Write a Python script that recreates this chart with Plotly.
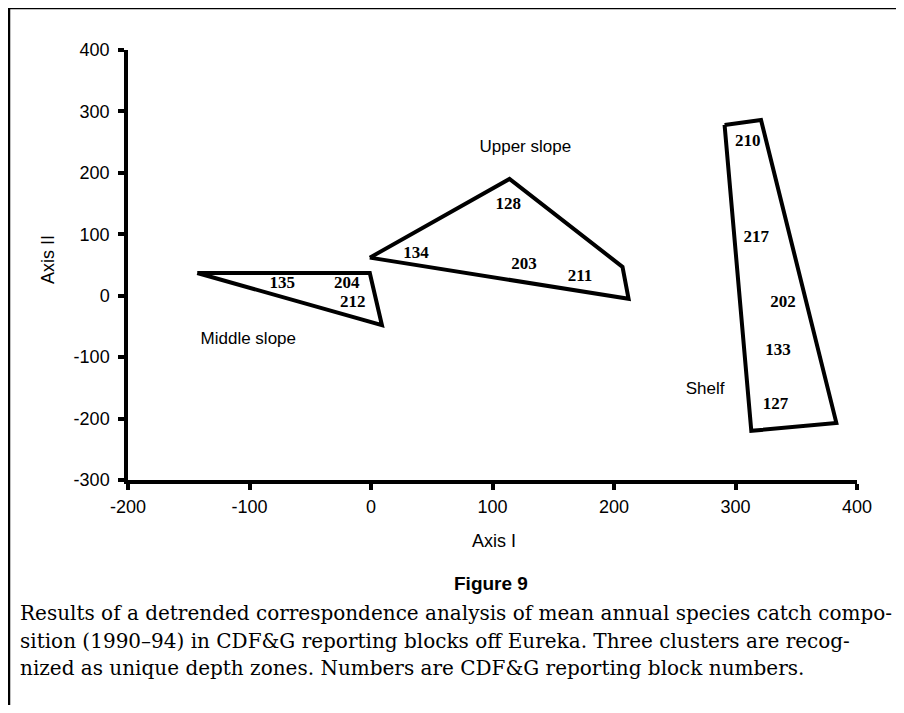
import plotly.graph_objects as go

# Cluster outlines (Axis I, Axis II)
middle_x = [-143, -1, 9, -143]
middle_y = [37, 37, -48, 37]
upper_x = [-1, 114, 207, 212, -1]
upper_y = [62, 190, 47, -5, 62]
shelf_x = [291, 321, 383, 313, 291]
shelf_y = [278, 286, -207, -220, 278]

# Reporting block numbers
block_labels = ["135", "204", "212", "134", "128", "203", "211",
                "210", "217", "202", "133", "127"]
block_x = [-73, -20, -15, 37, 113, 126, 172, 310, 317, 339, 335, 333]
block_y = [20, 20, -12, 68, 148, 50, 31, 250, 95, -11, -89, -178]

# Cluster names
zone_labels = ["Middle slope", "Upper slope", "Shelf"]
zone_x = [-101, 127, 275]
zone_y = [-71, 241, -153]

x_ticks = [-200, -100, 0, 100, 200, 300, 400]
x_ticktext = ["-200", "-100", "0", "100", "200", "300", "400"]
y_ticks = [-300, -200, -100, 0, 100, 200, 300, 400]
y_ticktext = ["-300", "-200", "-100", "0", "100", "200", "300", "400"]

caption_lines = [
    "Results of a detrended correspondence analysis of mean annual species catch compo-",
    "sition (1990–94) in CDF&G reporting blocks off Eureka. Three clusters are recog-",
    "nized as unique depth zones. Numbers are CDF&G reporting block numbers.",
]

fig = go.Figure()
for xs, ys in [(middle_x, middle_y), (upper_x, upper_y), (shelf_x, shelf_y)]:
    fig.add_trace(go.Scatter(x=xs, y=ys, mode="lines",
                             line=dict(color="black", width=4),
                             hoverinfo="skip", showlegend=False))

fig.add_trace(go.Scatter(x=block_x, y=block_y, mode="text", text=block_labels,
                         textfont=dict(family="Liberation Serif", size=17, color="black"),
                         texttemplate="<b>%{text}</b>", showlegend=False))
fig.add_trace(go.Scatter(x=zone_x, y=zone_y, mode="text", text=zone_labels,
                         textfont=dict(family="Liberation Sans", size=17, color="black"),
                         showlegend=False))

# page is shown with an 8px body margin; figure coordinates are screen minus 8
W, H = 896, 697
L, R, T, B = 120, 47, 42, 225
pw, ph = W - L - R, H - T - B

def px(x):
    return (x - L) / pw

def py(y):
    return (H - B - y) / ph

fig.update_layout(
    width=W, height=H,
    margin=dict(l=L, r=R, t=T, b=B, autoexpand=False),
    paper_bgcolor="white", plot_bgcolor="white",
    font=dict(family="Liberation Sans", color="black"),
    xaxis=dict(range=[-200, 400], tickvals=x_ticks, ticktext=x_ticktext,
               showgrid=False, zeroline=False,
               showline=True, linecolor="black", linewidth=3.5,
               ticks="outside", ticklen=6, tickwidth=3.5, tickcolor="black",
               tickfont=dict(size=18, family="Liberation Sans"), ticklabelstandoff=2),
    yaxis=dict(range=[-300, 400], tickvals=y_ticks, ticktext=y_ticktext,
               showgrid=False, zeroline=False,
               showline=True, linecolor="black", linewidth=3.5,
               ticks="outside", ticklen=6, tickwidth=3.5, tickcolor="black",
               tickfont=dict(size=18, family="Liberation Sans"), ticklabelstandoff=5),
)

# figure frame (left and top rules)
fig.add_shape(type="path", xref="paper", yref="paper",
              path=f"M {px(1)},{py(H + 20)} L {px(1)},{py(0)} L {px(W + 20)},{py(0)}",
              line=dict(color="black", width=2.5))

# axis titles
fig.add_annotation(xref="paper", yref="paper", x=px(486), y=py(533),
                   text="Axis I", showarrow=False, xanchor="center", yanchor="middle",
                   font=dict(family="Liberation Sans", size=18, color="black"))
fig.add_annotation(xref="paper", yref="paper", x=px(40), y=py(252),
                   text="Axis II", showarrow=False, textangle=-90,
                   xanchor="center", yanchor="middle",
                   font=dict(family="Liberation Sans", size=18, color="black"))

fig.add_annotation(xref="paper", yref="paper", x=px(483), y=py(575),
                   text="<b>Figure 9</b>", showarrow=False,
                   font=dict(family="Liberation Sans", size=19, color="black"),
                   xanchor="center", yanchor="middle")
for i, line in enumerate(caption_lines):
    fig.add_annotation(xref="paper", yref="paper", x=px(10), y=py(605 + i * 27.5),
                       text=line, showarrow=False, xanchor="left", yanchor="middle",
                       font=dict(family="DejaVu Serif", size=20, color="black"))

fig.write_html("out.html")
